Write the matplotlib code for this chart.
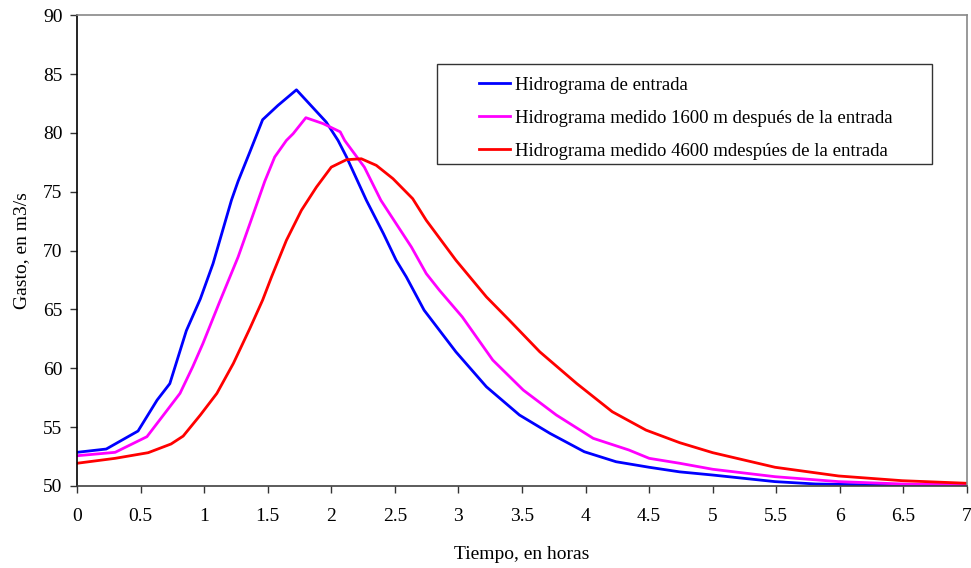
import matplotlib
matplotlib.use('Agg')
import matplotlib.pyplot as plt
from matplotlib.patches import Rectangle

# Hidrograma de entrada
t_entrada = [0, 0.23, 0.48, 0.63, 0.73, 0.86, 0.97, 1.07, 1.215, 1.267, 1.36, 1.46, 1.58, 1.726,
             1.96, 2.053, 2.12, 2.276, 2.41, 2.51, 2.59, 2.73, 2.98, 3.22, 3.48, 3.72, 3.99,
             4.24, 4.5, 4.74, 5.0, 5.49, 5.81, 6.2, 7.0]
q_entrada = [52.86, 53.14, 54.67, 57.3, 58.7, 63.2, 65.9, 68.9, 74.3, 75.9, 78.4, 81.13, 82.34, 83.67,
             80.93, 79.37, 77.96, 74.28, 71.45, 69.19, 67.77, 64.94, 61.4, 58.43, 56.03, 54.47, 52.91,
             52.06, 51.59, 51.2, 50.93, 50.37, 50.17, 50.1, 50.1]

# Hidrograma medido 1600 m
t_1600 = [0, 0.3, 0.55, 0.69, 0.81, 0.91, 0.99, 1.12, 1.267, 1.36, 1.477, 1.555, 1.647, 1.70,
          1.80, 1.935, 2.07, 2.105, 2.26, 2.39, 2.63, 2.747, 2.85, 3.03, 3.27, 3.51, 3.77,
          4.06, 4.34, 4.5, 4.74, 5.0, 5.49, 5.99, 6.49, 7.0]
q_1600 = [52.57, 52.86, 54.19, 56.17, 57.87, 60.13, 62.1, 65.6, 69.46, 72.3, 75.9, 77.96, 79.37, 79.94,
          81.3, 80.8, 80.1, 79.37, 77.1, 74.28, 70.31, 68.05, 66.64, 64.37, 60.7, 58.15, 56.03,
          54.05, 53.06, 52.35, 51.93, 51.42, 50.79, 50.37, 50.17, 50.1]

# Hidrograma medido 4600 m
t_4600 = [0, 0.3, 0.56, 0.74, 0.835, 0.97, 1.10, 1.23, 1.36, 1.46, 1.53, 1.647, 1.765, 1.883,
          2.0, 2.119, 2.236, 2.354, 2.485, 2.64, 2.747, 2.98, 3.22, 3.40, 3.64, 3.93, 4.21,
          4.475, 4.74, 5.0, 5.49, 5.99, 6.49, 7.0]
q_4600 = [51.93, 52.35, 52.83, 53.57, 54.24, 56.03, 57.87, 60.42, 63.4, 65.8, 67.77, 70.88, 73.43, 75.4,
          77.1, 77.73, 77.81, 77.25, 76.12, 74.42, 72.58, 69.19, 66.07, 64.09, 61.4, 58.71, 56.31,
          54.75, 53.68, 52.83, 51.59, 50.85, 50.45, 50.23]

labels = ['Hidrograma de entrada',
          'Hidrograma medido 1600 m después de la entrada',
          'Hidrograma medido 4600 mdespúes de la entrada']
colors = ['#0000FF', '#FF00FF', '#FF0000']

x_ticks = [0, 0.5, 1, 1.5, 2, 2.5, 3, 3.5, 4, 4.5, 5, 5.5, 6, 6.5, 7]
x_ticklabels = ['0', '0.5', '1', '1.5', '2', '2.5', '3', '3.5', '4', '4.5', '5', '5.5', '6', '6.5', '7']
y_ticks = [50, 55, 60, 65, 70, 75, 80, 85, 90]

plt.rcParams['font.family'] = ['Liberation Serif', 'DejaVu Serif']

fig = plt.figure(figsize=(9.71, 5.68), dpi=100)
ax = fig.add_axes([0.0793, 0.1444, 0.9166, 0.8286])

series = [(t_entrada, q_entrada), (t_1600, q_1600), (t_4600, q_4600)]
for (t, q), lab, c in zip(series, labels, colors):
    ax.plot(t, q, color=c, lw=2, label=lab)

ax.set_xlim(0, 7)
ax.set_ylim(50, 90)
ax.set_xticks(x_ticks)
ax.set_xticklabels(x_ticklabels)
ax.set_yticks(y_ticks)
ax.tick_params(axis='both', labelsize=14, length=5, width=1, direction='out', colors='#333333',
               labelcolor='black')
ax.tick_params(axis='x', pad=11)
ax.tick_params(axis='y', pad=5.5)

ax.spines['left'].set_color('black')
ax.spines['bottom'].set_color('#404040')
ax.spines['top'].set_color('#888888')
ax.spines['right'].set_color('#888888')
for s in ax.spines.values():
    s.set_linewidth(1.2)

ax.set_xlabel('Tiempo, en horas', fontsize=14, labelpad=15)
ax.set_ylabel('Gasto, en m3/s', fontsize=14, labelpad=9)

# legend box drawn as a frame, entries placed inside
ax.add_patch(Rectangle((0.4045, 0.684), 0.5562, 0.212, transform=ax.transAxes,
                       facecolor='white', edgecolor='#333333', lw=1, zorder=3))
leg = ax.legend(loc='upper left', bbox_to_anchor=(0.4517, 0.870), frameon=False,
                fontsize=13.5, handlelength=1.65, handletextpad=0.25, borderpad=0,
                labelspacing=0.85, borderaxespad=0)
leg.set_zorder(4)

fig.savefig('out.png', dpi=100)
